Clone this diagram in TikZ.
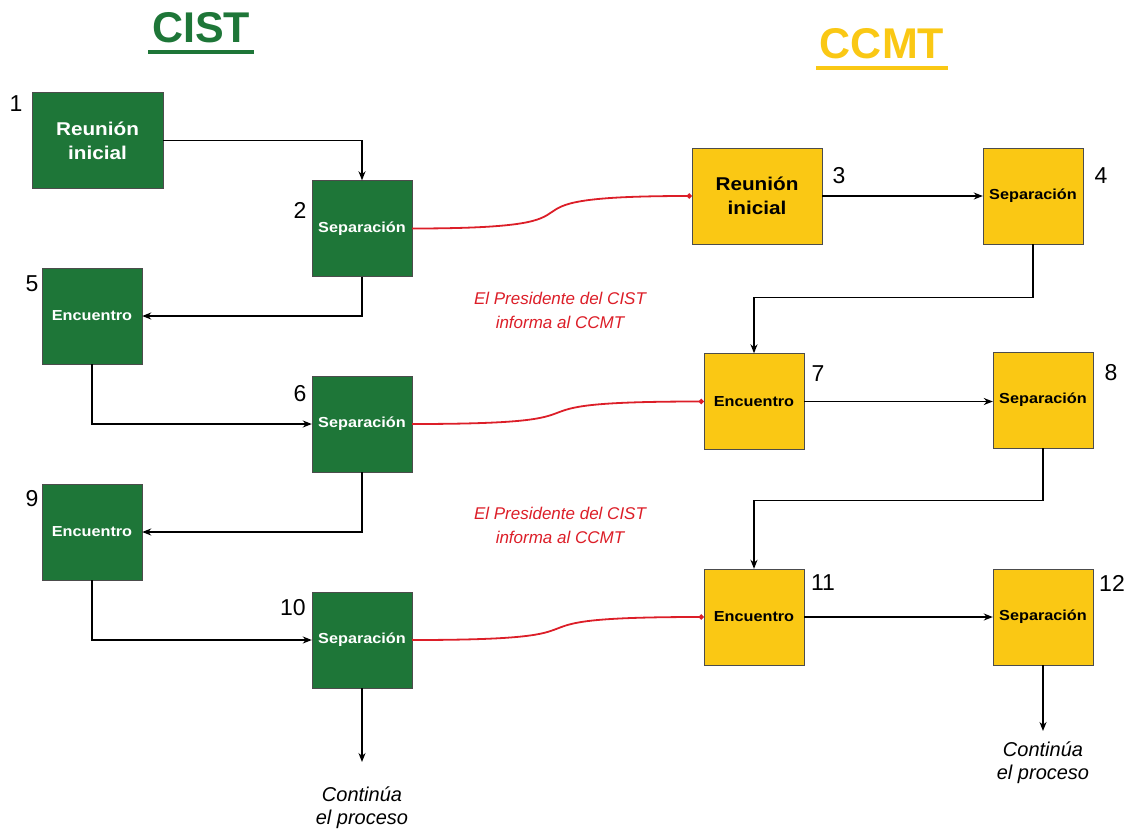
\documentclass[tikz,border=0pt]{standalone}
\usepackage{fontspec}
\setmainfont{Liberation Sans}
\newfontfamily\boxfont{Liberation Sans}[FakeStretch=1.12]
\usetikzlibrary{arrows.meta}
\definecolor{cistgreen}{RGB}{30,118,56}
\definecolor{ccmtyellow}{RGB}{250,200,20}
\definecolor{infored}{RGB}{220,30,40}

\begin{document}
\begin{tikzpicture}[
    x=1pt, y=-1pt,
    greenbox/.style={
        draw=black!70,
        fill=cistgreen,
        text=white,
        align=center,
        font=\boxfont\bfseries\fontsize{14.5}{16}\selectfont,
        minimum width=100pt,
        minimum height=96pt,
        inner sep=1pt
    },
    yellowbox/.style={
        draw=black!70,
        fill=ccmtyellow,
        text=black,
        align=center,
        font=\boxfont\bfseries\fontsize{14.5}{16}\selectfont,
        minimum width=100pt,
        minimum height=96pt,
        inner sep=1pt
    },
    bigtext/.style={font=\boxfont\bfseries\fontsize{18.5}{24}\selectfont},
    numlabel/.style={font=\fontsize{23}{25}\selectfont, inner sep=0pt},
    titletext/.style={font=\bfseries\fontsize{43}{45}\selectfont},
    titleline/.style={line width=3.5pt},
    infotext/.style={text=infored, align=center, font=\itshape\fontsize{17}{24}\selectfont},
    endtext/.style={align=center, font=\itshape\fontsize{20}{23}\selectfont},
    flowarrow/.style={-{Stealth[length=9pt,width=7pt]}, line width=1.4pt},
    infoarrow/.style={-{Circle[length=5pt]}, line width=1.8pt, infored}
]
\useasboundingbox (0,0) rectangle (1141,833);

% titles
\node[titletext, text=cistgreen] (cist) at (201,28) {CIST};
\node[titletext, text=ccmtyellow] (ccmt) at (882,44) {CCMT};
\draw[titleline, cistgreen] ([yshift=-5pt]cist.south west) -- ([yshift=-5pt]cist.south east);
\draw[titleline, ccmtyellow] ([yshift=-5pt]ccmt.south west) -- ([yshift=-5pt]ccmt.south east);

% CIST column
\node[greenbox, bigtext, minimum width=131pt] (b1) at (97.5,140.5) {Reunión\\inicial};
\node[greenbox] (b2) at (362,228.5) {Separación};
\node[greenbox] (b5) at (92,316) {Encuentro};
\node[greenbox] (b6) at (362,424) {Separación};
\node[greenbox] (b9) at (92,532) {Encuentro};
\node[greenbox] (b10) at (362,640) {Separación};

% CCMT column
\node[yellowbox, bigtext, minimum width=130pt] (b3) at (757,196) {Reunión\\inicial};
\node[yellowbox] (b4) at (1033,196) {Separación};
\node[yellowbox] (b7) at (754,401.5) {Encuentro};
\node[yellowbox] (b8) at (1043,400) {Separación};
\node[yellowbox] (b11) at (754,617) {Encuentro};
\node[yellowbox] (b12) at (1043,617) {Separación};

% numbers
\node[numlabel] (n1) at (16,104) {1};
\node[numlabel] (n2) at (300,210) {2};
\node[numlabel] (n3) at (839,176) {3};
\node[numlabel] (n4) at (1101,176) {4};
\node[numlabel] (n5) at (32,284) {5};
\node[numlabel] (n6) at (300,394) {6};
\node[numlabel] (n7) at (818,374) {7};
\node[numlabel] (n8) at (1111,373) {8};
\node[numlabel] (n9) at (32,499) {9};
\node[numlabel] (n10) at (293,608) {10};
\node[numlabel] (n11) at (823,583) {11};
\node[numlabel] (n12) at (1112,583) {12};

% red notes
\node[infotext] (info1) at (560,310) {El Presidente del CIST\\informa al CCMT};
\node[infotext] (info2) at (560,525) {El Presidente del CIST\\informa al CCMT};

% ends
\coordinate (end1) at (362,762);
\coordinate (end2) at (1043,731);
\node[endtext] (cont1) at (362,808) {Continúa\\el proceso};
\node[endtext] (cont2) at (1043,763) {Continúa\\el proceso};

% CIST arrows
\draw[flowarrow] (b1.east) -| (b2.north);
\draw[flowarrow] (b2.south) |- (b5.east);
\draw[flowarrow] (b5.south) |- (b6.west);
\draw[flowarrow] (b6.south) |- (b9.east);
\draw[flowarrow] (b9.south) |- (b10.west);
\draw[flowarrow] (b10.south) -- (end1);

% CCMT arrows
\draw[flowarrow] (b3.east) -- (b4.west);
\draw[flowarrow] (b4.south) -- ++(0,53) -| (b7.north);
\draw[flowarrow] (b7.east) -- (b8.west |- b7.east);
\draw[flowarrow] (b8.south) -- ++(0,52) -| (b11.north);
\draw[flowarrow] (b11.east) -- (b12.west);
\draw[flowarrow] (b12.south) -- (end2);

% CIST to CCMT
\draw[infoarrow] (b2.east) .. controls +(230,0) and +(-230,0) .. (b3.west);
\draw[infoarrow] (b6.east) .. controls +(230,0) and +(-230,0) .. (b7.west);
\draw[infoarrow] (b10.east) .. controls +(230,0) and +(-230,0) .. (b11.west);
\end{tikzpicture}
\end{document}
